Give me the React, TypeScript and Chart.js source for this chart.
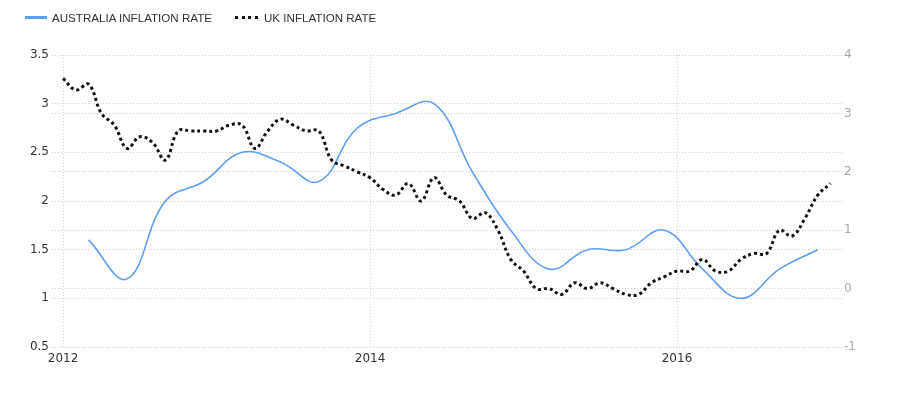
import React, { useEffect, useRef } from "react";
import { Chart, registerables } from "chart.js";

Chart.register(...registerables);

// Australia inflation rate, quarterly (left axis)
const ausDates = [
  "2012-03", "2012-06", "2012-09", "2012-12",
  "2013-03", "2013-06", "2013-09", "2013-12",
  "2014-03", "2014-06", "2014-09", "2014-12",
  "2015-03", "2015-06", "2015-09", "2015-12",
  "2016-03", "2016-06", "2016-09", "2016-12",
];
const ausValues = [
  1.6, 1.2, 2.0, 2.2,
  2.5, 2.4, 2.2, 2.75,
  2.9, 3.0, 2.3, 1.7,
  1.3, 1.5, 1.5, 1.7,
  1.3, 1.0, 1.3, 1.5,
];

// UK inflation rate, monthly (right axis)
const ukDates = [
  "2012-01", "2012-02", "2012-03", "2012-04", "2012-05", "2012-06", "2012-07", "2012-08", "2012-09", "2012-10", "2012-11", "2012-12",
  "2013-01", "2013-02", "2013-03", "2013-04", "2013-05", "2013-06", "2013-07", "2013-08", "2013-09", "2013-10", "2013-11", "2013-12",
  "2014-01", "2014-02", "2014-03", "2014-04", "2014-05", "2014-06", "2014-07", "2014-08", "2014-09", "2014-10", "2014-11", "2014-12",
  "2015-01", "2015-02", "2015-03", "2015-04", "2015-05", "2015-06", "2015-07", "2015-08", "2015-09", "2015-10", "2015-11", "2015-12",
  "2016-01", "2016-02", "2016-03", "2016-04", "2016-05", "2016-06", "2016-07", "2016-08", "2016-09", "2016-10", "2016-11", "2016-12",
  "2017-01",
];
const ukValues = [
  3.6, 3.4, 3.5, 3.0, 2.8, 2.4, 2.6, 2.5, 2.2, 2.7, 2.7, 2.7,
  2.7, 2.8, 2.8, 2.4, 2.7, 2.9, 2.8, 2.7, 2.7, 2.2, 2.1, 2.0,
  1.9, 1.7, 1.6, 1.8, 1.5, 1.9, 1.6, 1.5, 1.2, 1.3, 1.0, 0.5,
  0.3, 0.0, 0.0, -0.1, 0.1, 0.0, 0.1, 0.0, -0.1, -0.1, 0.1, 0.2,
  0.3, 0.3, 0.5, 0.3, 0.3, 0.5, 0.6, 0.6, 1.0, 0.9, 1.2, 1.6,
  1.8,
];

const xTickYears = [2012, 2014, 2016];
const legendLabels = ["AUSTRALIA INFLATION RATE", "UK INFLATION RATE"];

const X_MIN = 2011.928;
const X_MAX = 2017.075;

function toYear(d: string): number {
  const [y, m] = d.split("-").map(Number);
  return y + (m - 1) / 12;
}

const AUS_COLOR = "#5f9ff2";
const UK_COLOR = "#111111";
const GRID = "#cfcfcf";
const TICK_FONT = { family: "'DejaVu Sans', Verdana, sans-serif", size: 12 };

const fmt = (v: any) => String(Math.round(Number(v) * 100) / 100);

export default function App() {
  const canvasRef = useRef<HTMLCanvasElement | null>(null);

  useEffect(() => {
    document.body.style.margin = "0";
    const canvas = canvasRef.current;
    if (!canvas) return;
    const chart = new Chart(canvas, {
      type: "line",
      data: {
        datasets: [
          {
            label: legendLabels[0],
            data: ausDates.map((d, i) => ({ x: toYear(d), y: ausValues[i] })),
            borderColor: AUS_COLOR,
            backgroundColor: AUS_COLOR,
            borderWidth: 1.6,
            pointRadius: 0,
            tension: 0.4,
            yAxisID: "y",
            order: 1,
          },
          {
            label: legendLabels[1],
            data: ukDates.map((d, i) => ({ x: toYear(d), y: ukValues[i] })),
            borderColor: UK_COLOR,
            backgroundColor: UK_COLOR,
            borderWidth: 3,
            borderDash: [3, 3],
            borderCapStyle: "butt",
            pointRadius: 0,
            tension: 0.4,
            yAxisID: "y1",
            order: 0,
          },
        ],
      },
      options: {
        animation: false,
        responsive: false,
        maintainAspectRatio: false,
        layout: { padding: { top: 55, left: 0, right: 0, bottom: 0 } },
        plugins: {
          legend: { display: false },
          tooltip: { enabled: false },
        },
        scales: {
          x: {
            type: "linear",
            min: X_MIN,
            max: X_MAX,
            afterFit: (s: any) => {
              s.height = 48;
            },
            afterBuildTicks: (s: any) => {
              s.ticks = xTickYears.map((v) => ({ value: v }));
            },
            ticks: {
              stepSize: 2,
              includeBounds: false,
              padding: 5,
              color: "#333333",
              font: TICK_FONT,
              maxRotation: 0,
              callback: fmt,
            },
            grid: { color: GRID, drawTicks: false, lineWidth: 1 },
            border: { display: false, dash: [1, 2] },
          },
          y: {
            position: "left",
            min: 0.5,
            max: 3.5,
            afterFit: (s: any) => {
              s.width = 52;
            },
            ticks: {
              stepSize: 0.5,
              padding: 3,
              color: "#333333",
              font: TICK_FONT,
              callback: fmt,
            },
            grid: { color: GRID, drawTicks: false, lineWidth: 1 },
            border: { display: false, dash: [1, 2] },
          },
          y1: {
            position: "right",
            min: -1,
            max: 4,
            afterFit: (s: any) => {
              s.width = 55;
            },
            ticks: {
              stepSize: 1,
              padding: 2,
              color: "#aaaaaa",
              font: TICK_FONT,
              callback: fmt,
            },
            grid: { color: GRID, drawTicks: false, lineWidth: 1 },
            border: { display: false, dash: [1, 2] },
          },
        },
      },
    } as any);
    return () => chart.destroy();
  }, []);

  const legendText: React.CSSProperties = {
    position: "absolute",
    top: 11,
    fontFamily: "'Liberation Sans', Arial, sans-serif",
    fontSize: 11.6,
    lineHeight: "14px",
    color: "#333333",
    whiteSpace: "nowrap",
  };

  return (
    <div style={{ position: "relative", width: 897, height: 395, background: "#ffffff" }}>
      <canvas ref={canvasRef} width={897} height={395} style={{ display: "block" }} />
      <div
        style={{
          position: "absolute",
          left: 25,
          top: 16,
          width: 22,
          height: 0,
          borderTop: `3px solid ${AUS_COLOR}`,
        }}
      />
      <div style={{ ...legendText, left: 52 }}>{legendLabels[0]}</div>
      <div
        style={{
          position: "absolute",
          left: 235,
          top: 16,
          width: 23,
          height: 0,
          borderTop: `3px dotted ${UK_COLOR}`,
        }}
      />
      <div style={{ ...legendText, left: 264 }}>{legendLabels[1]}</div>
    </div>
  );
}
